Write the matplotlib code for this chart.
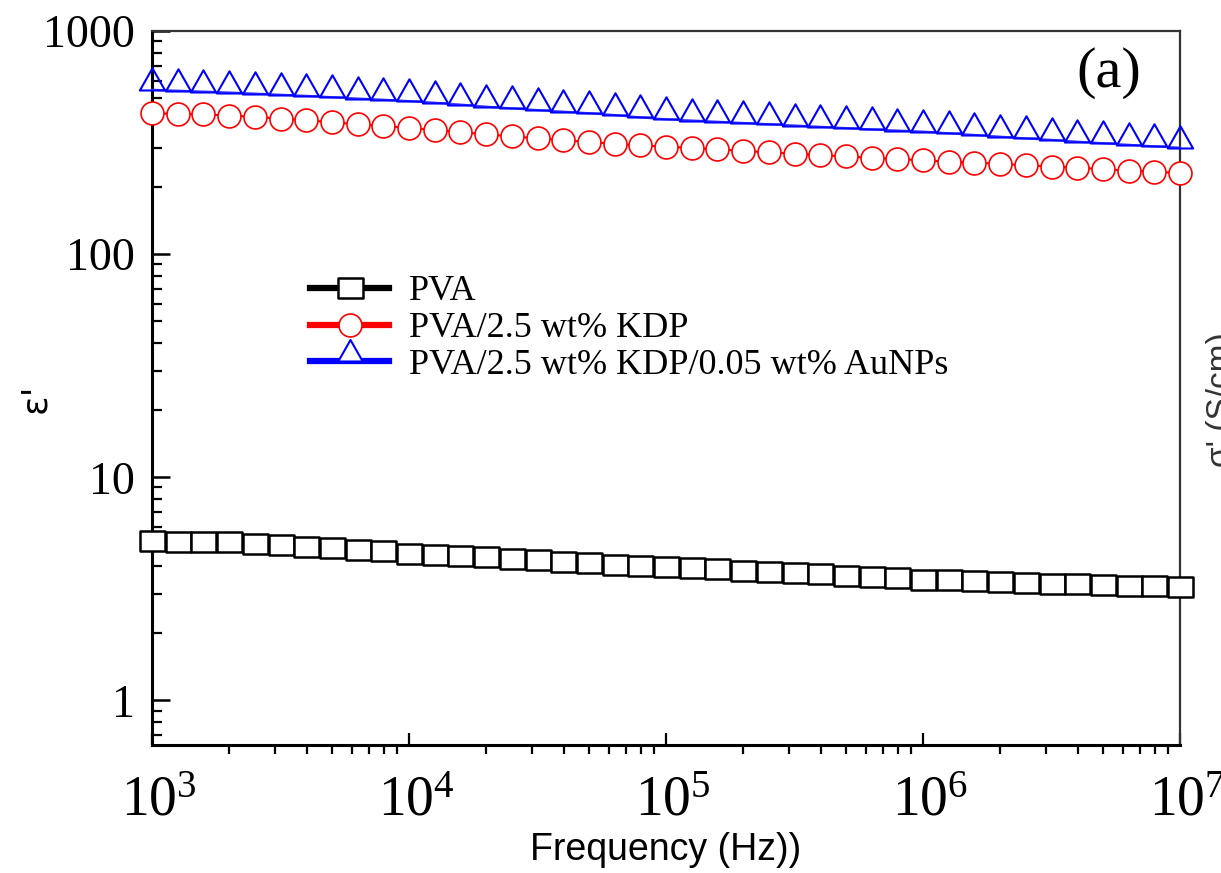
import numpy as np
import matplotlib
matplotlib.use("Agg")
import matplotlib.pyplot as plt
from matplotlib.path import Path
from matplotlib.markers import MarkerStyle
from matplotlib.lines import Line2D
from matplotlib.transforms import ScaledTranslation
from matplotlib.ticker import LogLocator, FuncFormatter, NullFormatter

# ---------------- data ----------------
log_freq = [3.0, 3.1, 3.2, 3.3, 3.4, 3.5, 3.6, 3.7, 3.8, 3.9,
            4.0, 4.1, 4.2, 4.3, 4.4, 4.5, 4.6, 4.7, 4.8, 4.9,
            5.0, 5.1, 5.2, 5.3, 5.4, 5.5, 5.6, 5.7, 5.8, 5.9,
            6.0, 6.1, 6.2, 6.3, 6.4, 6.5, 6.6, 6.7, 6.8, 6.9, 7.0]

eps_pva = [5.18, 5.15, 5.14, 5.12, 5.02, 4.95, 4.86, 4.80, 4.74, 4.66,
           4.55, 4.50, 4.45, 4.38, 4.30, 4.25, 4.18, 4.12, 4.06, 4.00,
           3.95, 3.93, 3.88, 3.82, 3.78, 3.72, 3.68, 3.62, 3.58, 3.52,
           3.47, 3.46, 3.42, 3.40, 3.37, 3.34, 3.31, 3.30, 3.27, 3.24, 3.22]

eps_kdp = [428, 425, 423, 418, 412, 405, 398, 390, 382, 375,
           368, 360, 352, 344, 337, 330, 324, 318, 312, 307,
           303, 299, 295, 290, 286, 282, 278, 274, 270, 267,
           263, 260, 257, 254, 250, 247, 244, 240, 237, 234, 231]

eps_au = [545, 540, 535, 530, 524, 518, 512, 505, 498, 492,
          485, 477, 468, 458, 450, 442, 435, 428, 420, 410,
          402, 397, 392, 387, 382, 377, 372, 367, 362, 358,
          354, 348, 342, 336, 330, 325, 319, 314, 309, 304, 300]

labels = ["PVA", "PVA/2.5 wt% KDP", "PVA/2.5 wt% KDP/0.05 wt% AuNPs"]
colors = ["#000000", "#ff0000", "#0000ff"]

freq = [10 ** v for v in log_freq]

# ---------------- markers ----------------
rect_marker = MarkerStyle(Path([(-1.3, -1.0), (1.3, -1.0), (1.3, 1.0), (-1.3, 1.0), (-1.3, -1.0)],
                               [Path.MOVETO, Path.LINETO, Path.LINETO, Path.LINETO, Path.CLOSEPOLY]))
tri_marker = MarkerStyle(Path([(-1.0, 0.0), (1.0, 0.0), (0.0, 1.76), (-1.0, 0.0)],
                              [Path.MOVETO, Path.LINETO, Path.LINETO, Path.CLOSEPOLY]))

plt.rcParams["font.family"] = ["Liberation Serif", "DejaVu Serif"]
plt.rcParams["mathtext.fontset"] = "custom"
plt.rcParams["mathtext.rm"] = "Liberation Serif"
plt.rcParams["mathtext.it"] = "Liberation Serif:italic"

fig = plt.figure(figsize=(12.21, 8.73), dpi=100)
ax = fig.add_axes([152 / 1221, 1 - 745 / 873, (1180 - 152) / 1221, (745 - 31) / 873])

ax.plot(freq, eps_pva, color=colors[0], lw=2.6, marker=rect_marker, ms=18,
        mfc="white", mec=colors[0], mew=1.8, clip_on=False, zorder=3)
ax.plot(freq, eps_kdp, color=colors[1], lw=1.5, marker="o", ms=16.5,
        mfc="white", mec=colors[1], mew=1.2, clip_on=False, zorder=3)
ax.plot(freq, eps_au, color="#4040ff", lw=1.6, zorder=3, clip_on=False)
ax.plot(freq, eps_au, ls="none", marker=tri_marker, ms=32,
        mfc="none", mec=colors[2], mew=1.5, clip_on=False, zorder=3)

ax.set_xscale("log")
ax.set_yscale("log")
ax.set_xlim(1e3, 1e7)
ax.set_ylim(10 ** -0.2, 1000)

ax.xaxis.set_major_locator(LogLocator(base=10, numticks=10))
ax.xaxis.set_minor_locator(LogLocator(base=10, subs=np.arange(2, 10), numticks=20))
ax.yaxis.set_major_locator(LogLocator(base=10, numticks=10))
ax.yaxis.set_minor_locator(LogLocator(base=10, subs=np.arange(2, 10), numticks=20))
ax.xaxis.set_minor_formatter(NullFormatter())
ax.yaxis.set_minor_formatter(NullFormatter())
ax.xaxis.set_major_formatter(FuncFormatter(lambda v, p: r"$\mathregular{10^{%d}}$" % round(np.log10(v))))
ax.yaxis.set_major_formatter(FuncFormatter(lambda v, p: "%g" % v))

ax.tick_params(axis="y", which="major", direction="in", length=13, width=1.8, pad=12,
               labelsize=33, right=False)
ax.tick_params(axis="y", which="minor", direction="in", length=7, width=1.6, right=False)
ax.tick_params(axis="x", which="major", direction="in", length=9, width=1.6, pad=22,
               labelsize=40, top=False)
ax.tick_params(axis="x", which="minor", direction="out", length=6.5, width=1.6, top=False)

# the "10" part of each power label sits centred on its tick, exponent hanging right
shift = ScaledTranslation(7 / 100, 0, fig.dpi_scale_trans)
for tick in ax.xaxis.get_major_ticks():
    tick.label1.set_transform(tick.label1.get_transform() + shift)

ax.spines["left"].set_linewidth(2.2)
ax.spines["bottom"].set_linewidth(2.2)
ax.spines["top"].set_linewidth(1.6)
ax.spines["right"].set_linewidth(1.6)
ax.spines["top"].set_color("#333333")
ax.spines["right"].set_color("#333333")

ax.set_xlabel("Frequency (Hz))", fontsize=27, family="Liberation Sans", labelpad=3)
fig.text(35 / 1221, 1 - 398 / 873, "ε'", rotation=90, fontsize=26, family="DejaVu Sans",
         ha="center", va="center")

fig.text(1109 / 1221, 1 - 73 / 873, "(a)", fontsize=42,
         family="Liberation Serif", ha="center", va="center")

# partial label of the neighbouring panel, cut by the figure edge as in the reference
fig.text(1206 / 1221, 1 - 400 / 873, "σ' (S/cm)", rotation=90, fontsize=24,
         family="Liberation Sans", ha="left", va="center", color="#333333")

handles = [
    Line2D([], [], color=colors[0], lw=4.5, marker=rect_marker, ms=18, mfc="white", mec=colors[0], mew=1.8),
    Line2D([], [], color=colors[1], lw=4.5, marker="o", ms=16.5, mfc="white", mec=colors[1], mew=1.2),
    Line2D([], [], color=colors[2], lw=4.5, marker=tri_marker, ms=31, mfc="white", mec=colors[2], mew=1.5),
]
leg = ax.legend(handles, labels, loc="upper left", bbox_to_anchor=((310 - 152) / 1028, 1 - (275 - 31) / 714),
                frameon=False, borderpad=0, borderaxespad=0, handlelength=2.2, handletextpad=0.55,
                labelspacing=0.1, prop={"family": "Liberation Serif", "size": 26})

fig.savefig("out.png", dpi=100)
